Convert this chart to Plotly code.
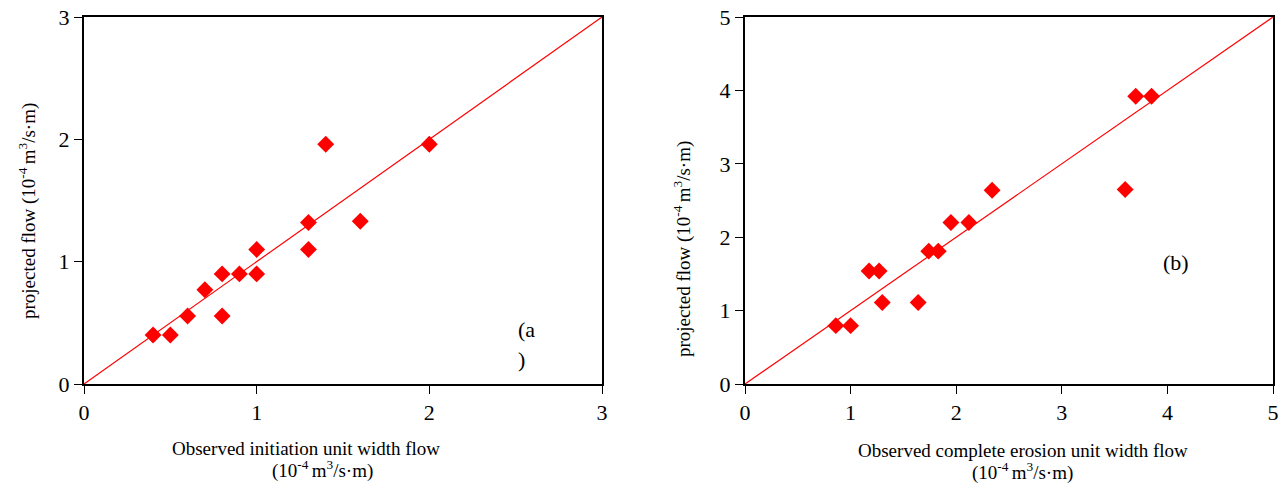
import plotly.graph_objects as go

# Panel (a): observed initiation vs projected
obs_a = [0.4, 0.5, 0.6, 0.7, 0.8, 0.8, 0.9, 1.0, 1.0, 1.3, 1.3, 1.4, 1.6, 2.0]
pred_a = [0.40, 0.40, 0.556, 0.77, 0.90, 0.556, 0.90, 0.90, 1.10, 1.32, 1.10, 1.96, 1.33, 1.96]

# Panel (b): observed complete erosion vs projected
obs_b = [0.86, 1.00, 1.175, 1.27, 1.30, 1.64, 1.74, 1.83, 1.95, 2.12, 2.34, 3.60, 3.70, 3.85]
pred_b = [0.795, 0.795, 1.54, 1.54, 1.11, 1.11, 1.81, 1.81, 2.20, 2.20, 2.64, 2.65, 3.92, 3.92]

line_a = [0, 3]
line_b = [0, 5]
ticks_a = [0, 1, 2, 3]
ticks_b = [0, 1, 2, 3, 4, 5]

FONT = "Liberation Serif"
W, H = 1286, 485

fig = go.Figure()
mk = dict(symbol="diamond", size=13, color="#ff0000")
fig.add_trace(go.Scatter(x=line_a, y=line_a, mode="lines", line=dict(color="#ff0000", width=1.2),
                         xaxis="x", yaxis="y", showlegend=False))
fig.add_trace(go.Scatter(x=obs_a, y=pred_a, mode="markers", marker=mk,
                         xaxis="x", yaxis="y", showlegend=False, cliponaxis=False))
fig.add_trace(go.Scatter(x=line_b, y=line_b, mode="lines", line=dict(color="#ff0000", width=1.2),
                         xaxis="x2", yaxis="y2", showlegend=False))
fig.add_trace(go.Scatter(x=obs_b, y=pred_b, mode="markers", marker=mk,
                         xaxis="x2", yaxis="y2", showlegend=False, cliponaxis=False))

ydom = [1 - 384 / H, 1 - 17 / H]
axcommon = dict(showgrid=False, zeroline=False, showline=True, linecolor="black", linewidth=2,
                mirror=True, ticks="outside", ticklen=8, tickcolor="black", tickwidth=1,
                automargin=False,
                tickfont=dict(family=FONT, size=22, color="black"))

fig.update_layout(
    width=W, height=H,
    margin=dict(l=0, r=0, t=0, b=0),
    plot_bgcolor="white", paper_bgcolor="white",
    font=dict(family=FONT, color="black"),
    xaxis=dict(domain=[84 / W, 602 / W], range=[0, 3], tickvals=ticks_a, anchor="y", **axcommon),
    yaxis=dict(domain=ydom, range=[0, 3], tickvals=ticks_a, anchor="x", **axcommon),
    xaxis2=dict(domain=[745 / W, 1273 / W], range=[0, 5], tickvals=ticks_b, anchor="y2", **axcommon),
    yaxis2=dict(domain=ydom, range=[0, 5], tickvals=ticks_b, anchor="x2", **axcommon),
)

unit = "(10<sup>-4 </sup>m<sup>3</sup>/s·m)"
tf = dict(family=FONT, size=19, color="black")
ann = [
    dict(x=306 / W, y=1 - 448 / H, text="Observed initiation unit width flow"),
    dict(x=322 / W, y=1 - 469 / H, text=unit),
    dict(x=1023 / W, y=1 - 450 / H, text="Observed complete erosion unit width flow"),
    dict(x=1023 / W, y=1 - 471 / H, text=unit),
]
annots = []
for a in ann:
    annots.append(dict(xref="paper", yref="paper", showarrow=False, font=tf,
                       xanchor="center", yanchor="middle", **a))
annots.append(dict(xref="paper", yref="paper", x=27 / W, y=1 - 211 / H, text="projected flow " + unit,
                   textangle=-90, showarrow=False, font=tf, xanchor="center", yanchor="middle"))
annots.append(dict(xref="paper", yref="paper", x=683 / W, y=1 - 249 / H, text="projected flow " + unit,
                   textangle=-90, showarrow=False, font=tf, xanchor="center", yanchor="middle"))
lf = dict(family=FONT, size=22, color="black")
annots.append(dict(xref="paper", yref="paper", x=516 / W, y=1 - 329 / H, text="(a", showarrow=False,
                   font=lf, xanchor="left", yanchor="middle"))
annots.append(dict(xref="paper", yref="paper", x=516 / W, y=1 - 359 / H, text=")", showarrow=False,
                   font=lf, xanchor="left", yanchor="middle"))
annots.append(dict(xref="paper", yref="paper", x=1161 / W, y=1 - 262 / H, text="(b)", showarrow=False,
                   font=lf, xanchor="left", yanchor="middle"))
fig.update_layout(annotations=annots)

fig.write_html("out.html")
